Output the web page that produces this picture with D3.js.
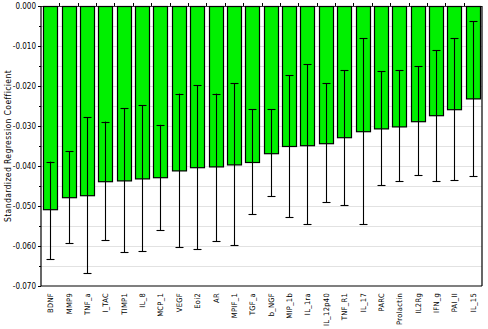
<!DOCTYPE html>
<html><head><meta charset="utf-8">
<script src="https://cdn.jsdelivr.net/npm/d3@7"></script>
<style>body{margin:0;background:#fff}svg{display:block}</style>
</head><body>
<script>
const categories = ["BDNF","MMP9","TNF_a","I_TAC","TIMP1","IL_8","MCP_1","VEGF","Eoi2","AR","MPIF_1","TGF_a","b_NGF","MIP_1b","IL_1ra","IL_12p40","TNF_R1","IL_17","PARC","Prolactin","IL2Rg","IFN_g","PAI_II","IL_15"];
const values = [-0.0508,-0.0478,-0.0473,-0.0438,-0.0436,-0.0431,-0.0428,-0.0411,-0.0403,-0.0401,-0.0396,-0.0390,-0.0368,-0.0350,-0.0348,-0.0343,-0.0328,-0.0313,-0.0306,-0.0301,-0.0288,-0.0273,-0.0258,-0.0231];
const errUpper = [-0.0389,-0.0363,-0.0278,-0.0289,-0.0256,-0.0248,-0.0297,-0.0219,-0.0198,-0.0219,-0.0193,-0.0258,-0.0258,-0.0173,-0.0146,-0.0193,-0.0161,-0.0081,-0.0163,-0.0161,-0.0151,-0.0111,-0.0081,-0.0038];
const errLower = [-0.0633,-0.0593,-0.0668,-0.0586,-0.0616,-0.0613,-0.0560,-0.0603,-0.0608,-0.0588,-0.0598,-0.0521,-0.0476,-0.0528,-0.0546,-0.0491,-0.0498,-0.0546,-0.0448,-0.0438,-0.0423,-0.0438,-0.0436,-0.0426];
const yTicks = [0,-0.01,-0.02,-0.03,-0.04,-0.05,-0.06,-0.07];
const yGrid = [-0.005,-0.01,-0.015,-0.02,-0.025,-0.03,-0.035,-0.04,-0.045,-0.05,-0.055,-0.06,-0.065];

const W=488,H=329, L=41, R=482, T=6, B=286;
const svg=d3.select("body").append("svg").attr("width",W).attr("height",H);
const x=d3.scaleBand().domain(categories).range([L,R]).paddingInner(0.24).paddingOuter(0.12);
const y=d3.scaleLinear().domain([0,-0.07]).range([T,B]);
const font="'DejaVu Sans Condensed','Liberation Sans Narrow',Arial,sans-serif";

// grid
svg.append("g").selectAll("line").data(yGrid).join("line")
 .attr("x1",L).attr("x2",R).attr("y1",d=>Math.round(y(d))+0.5).attr("y2",d=>Math.round(y(d))+0.5)
 .attr("stroke","#e2e2e2").attr("stroke-width",1);

// bars
svg.append("g").selectAll("rect").data(categories).join("rect")
 .attr("x",d=>Math.round(x(d))+0.5).attr("width",Math.round(x.bandwidth()))
 .attr("y",y(0)+0.5).attr("height",(d,i)=>y(values[i])-y(0))
 .attr("fill","#00f000").attr("stroke","#000").attr("stroke-width",1.2);

// error bars
const eg=svg.append("g").attr("stroke","#000").attr("stroke-width",1.1);
categories.forEach((c,i)=>{
  const cx=Math.round(x(c)+x.bandwidth()/2)+0.5;
  eg.append("line").attr("x1",cx).attr("x2",cx).attr("y1",y(errUpper[i])).attr("y2",y(errLower[i]));
  [errUpper[i],errLower[i]].forEach(v=>{
    eg.append("line").attr("x1",cx-4).attr("x2",cx+4).attr("y1",Math.round(y(v))+0.5).attr("y2",Math.round(y(v))+0.5);
  });
});

// frame
const fr=svg.append("g").attr("stroke","#000").attr("stroke-width",1.2);
fr.append("line").attr("x1",L).attr("x2",L).attr("y1",T).attr("y2",B);
fr.append("line").attr("x1",L).attr("x2",R).attr("y1",B).attr("y2",B);
fr.append("line").attr("x1",R).attr("x2",R).attr("y1",T).attr("y2",B);
fr.append("line").attr("x1",L).attr("x2",R).attr("y1",T+0.5).attr("y2",T+0.5).attr("stroke-width",0.8);

// top ticks at category boundaries
const bounds=categories.slice(1).map(c=>x(c)-x.step()*x.paddingInner()/2);
svg.append("g").selectAll("line").data(bounds).join("line")
 .attr("x1",d=>Math.round(d)+0.5).attr("x2",d=>Math.round(d)+0.5).attr("y1",T-3).attr("y2",T)
 .attr("stroke","#000");

// y axis
const yAxis=d3.axisLeft(y).tickValues(yTicks).tickFormat(d3.format(".3f")).tickSize(3);
const ga=svg.append("g").attr("transform",`translate(${L},0)`).call(yAxis);
ga.select(".domain").remove();
ga.selectAll("text").attr("font-family",font).attr("font-size",8).attr("fill","#000").attr("dx",1);
ga.selectAll("text").text(d=>d3.format(".3f")(d).replace("−","-"));
svg.append("g").selectAll("line").data(yGrid.filter(v=>Math.abs(v*1000)%10!==0)).join("line")
 .attr("x1",L-2).attr("x2",L).attr("y1",d=>Math.round(y(d))+0.5).attr("y2",d=>Math.round(y(d))+0.5).attr("stroke","#000");

// x labels
svg.append("g").selectAll("text").data(categories).join("text")
 .attr("transform",d=>`translate(${x(d)+x.bandwidth()/2+3},${B+7}) rotate(-90)`)
 .attr("text-anchor","end").attr("font-family",font).attr("font-size",7.5).attr("letter-spacing",0.3)
 .text(d=>d);

// y title
svg.append("text").attr("transform",`translate(11,${(T+B)/2}) rotate(-90)`)
 .attr("text-anchor","middle").attr("font-family",font).attr("font-size",8.5).attr("letter-spacing",0.4)
 .text("Standardized Regression Coefficient");
</script>
</body></html>
